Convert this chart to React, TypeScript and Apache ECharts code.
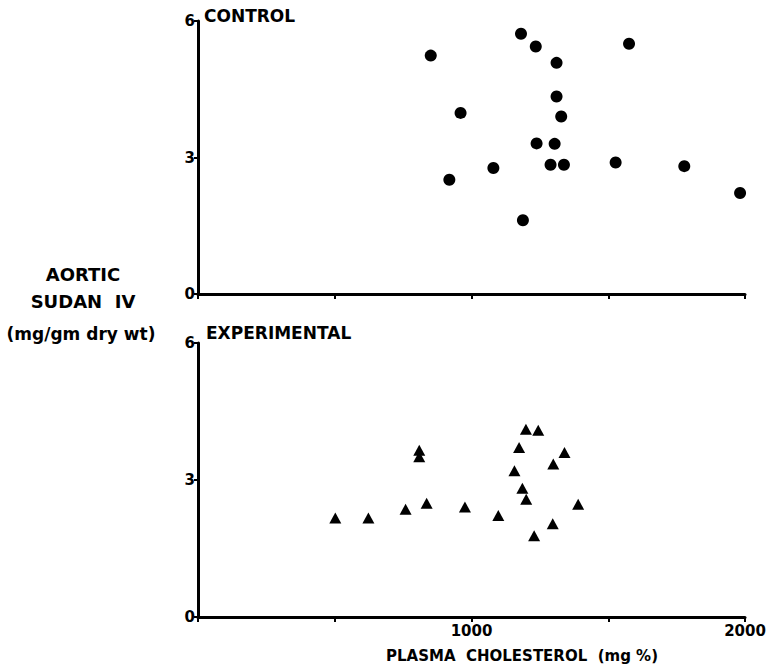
import React, { useEffect, useRef } from "react";
import * as echarts from "echarts";

const controlX = [851, 960, 919, 1227, 1181, 1235, 1311, 1576, 1311, 1328, 1238, 1304, 1080, 1289, 1338, 1527, 1778, 1982, 1188];
const controlY = [5.24, 3.98, 2.51, 6.04, 5.72, 5.44, 5.08, 5.5, 4.34, 3.9, 3.31, 3.3, 2.77, 2.84, 2.84, 2.89, 2.81, 2.22, 1.62];
const expX = [502, 623, 759, 836, 976, 809, 809, 1098, 1199, 1244, 1174, 1340, 1299, 1157, 1186, 1200, 1390, 1297, 1229];
const expY = [2.17, 2.17, 2.36, 2.49, 2.41, 3.65, 3.51, 2.22, 4.11, 4.09, 3.71, 3.6, 3.35, 3.2, 2.82, 2.58, 2.47, 2.04, 1.78];
const xLabels = ["1000", "2000"];
const yTicks = [0, 3, 6];

const FONT = "DejaVu Sans";

export default function App() {
  const ref = useRef<HTMLDivElement>(null);
  useEffect(() => {
    if (!ref.current) return;
    const chart = echarts.init(ref.current, null, { renderer: "svg" });
    const axisLine = { show: true, lineStyle: { color: "#000", width: 3 } };
    const xAxisBase = (showLabels: boolean) => ({
      type: "value",
      min: 0,
      max: 2000,
      interval: 500,
      axisLine,
      axisTick: { show: true, length: 5, lineStyle: { color: "#000", width: 2 } },
      splitLine: { show: false },
      axisLabel: {
        show: showLabels,
        color: "#000",
        fontFamily: FONT,
        fontWeight: "bold",
        fontSize: 15,
        margin: 6,
        formatter: (v: number) => (xLabels.includes(String(v)) ? String(v) : ""),
      },
    });
    const yAxisBase = () => ({
      type: "value",
      min: yTicks[0],
      max: yTicks[yTicks.length - 1],
      interval: 3,
      axisLine,
      axisTick: { show: true, length: 4, lineStyle: { color: "#000", width: 2 } },
      splitLine: { show: false },
      axisLabel: {
        color: "#000",
        fontFamily: FONT,
        fontWeight: "bold",
        fontSize: 15,
        margin: 3,
      },
    });
    chart.setOption({
      animation: false,
      backgroundColor: "#fff",
      grid: [
        { left: 198, top: 21, width: 547, height: 273 },
        { left: 198, top: 343, width: 547, height: 274 },
      ],
      xAxis: [
        { ...xAxisBase(false), gridIndex: 0 },
        { ...xAxisBase(true), gridIndex: 1 },
      ],
      yAxis: [
        { ...yAxisBase(), gridIndex: 0 },
        { ...yAxisBase(), gridIndex: 1 },
      ],
      series: [
        {
          type: "scatter",
          xAxisIndex: 0,
          yAxisIndex: 0,
          symbol: "circle",
          symbolSize: 12,
          itemStyle: { color: "#000", opacity: 1 },
          data: controlX.map((x, i) => [x, controlY[i]]),
        },
        {
          type: "scatter",
          xAxisIndex: 1,
          yAxisIndex: 1,
          symbol: "triangle",
          symbolSize: [12, 11],
          itemStyle: { color: "#000", opacity: 1 },
          data: expX.map((x, i) => [x, expY[i]]),
        },
      ],
      graphic: [
        {
          type: "text",
          left: 204,
          top: 7,
          style: { text: "CONTROL", fill: "#000", font: `bold 17px "${FONT}"` },
        },
        {
          type: "text",
          left: 206,
          top: 324,
          style: { text: "EXPERIMENTAL", fill: "#000", font: `bold 17px "${FONT}"` },
        },
        {
          type: "text",
          x: 83,
          y: 265,
          style: { text: "AORTIC", fill: "#000", font: `bold 18px "${FONT}"`, align: "center" },
        },
        {
          type: "text",
          x: 83,
          y: 292,
          style: { text: "SUDAN  IV", fill: "#000", font: `bold 18px "${FONT}"`, align: "center" },
        },
        {
          type: "text",
          x: 81,
          y: 325,
          style: { text: "(mg/gm dry wt)", fill: "#000", font: `bold 17px "${FONT}"`, align: "center" },
        },
        {
          type: "text",
          x: 522,
          y: 648,
          style: {
            text: "PLASMA  CHOLESTEROL  (mg %)",
            fill: "#000",
            font: `bold 15px "${FONT}"`,
            align: "center",
          },
        },
      ],
    });
    return () => chart.dispose();
  }, []);
  return (
    <div
      ref={ref}
      style={{ position: "fixed", left: 0, top: 0, width: 773, height: 669 }}
    />
  );
}
